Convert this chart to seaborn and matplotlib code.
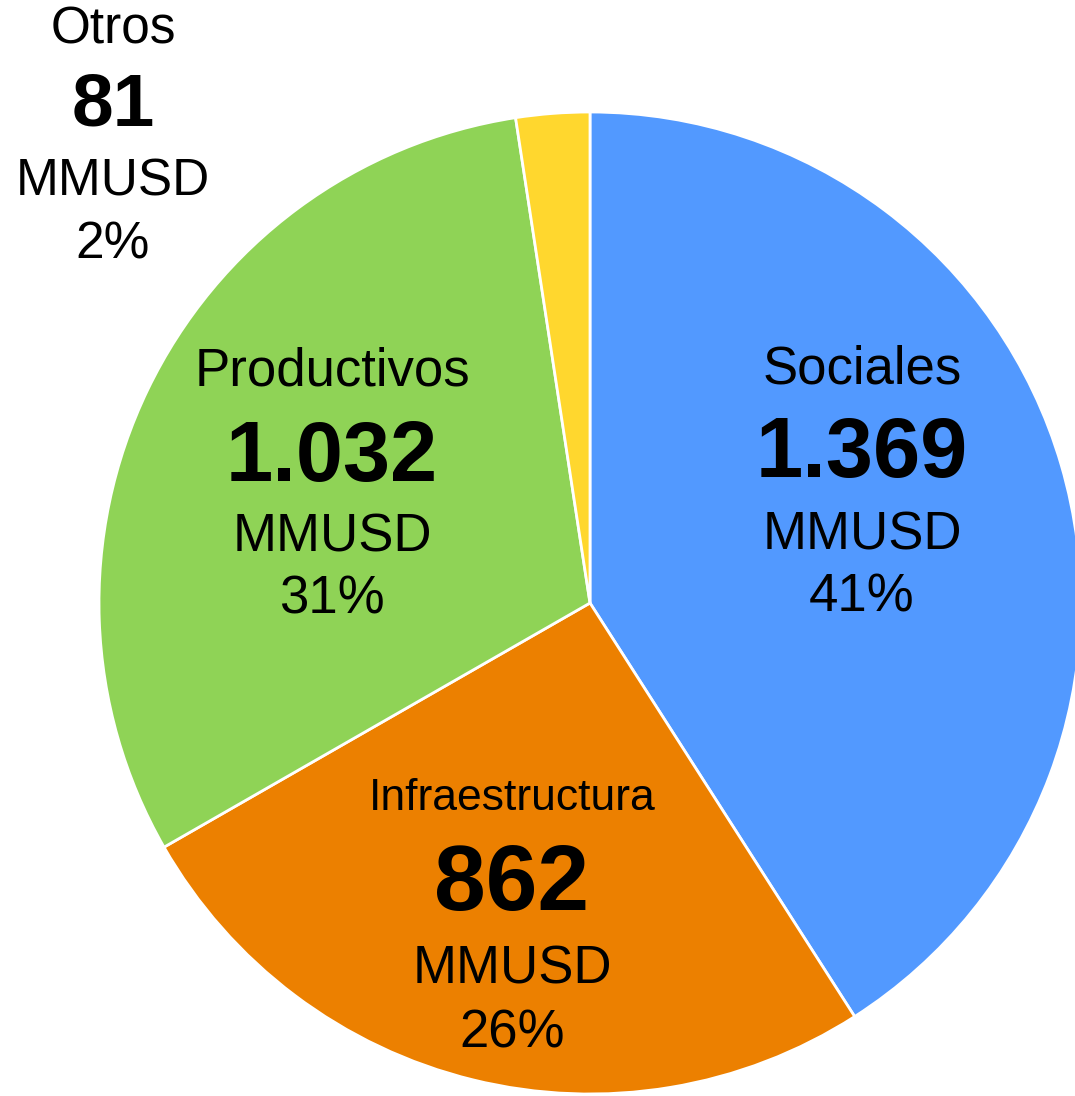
import matplotlib.pyplot as plt
import seaborn as sns

# -----------------------------
# Data
# -----------------------------
categories = ["Sociales", "Infraestructura", "Productivos", "Otros"]
values = [1369, 862, 1032, 81]
unit = "MMUSD"
colors = ["#5299FF", "#EC8000", "#8FD356", "#FFD72E"]

# label anchor (pixel x, pixel y of first line), font sizes and line offsets per slice
label_pos = {
    "Sociales": (862, 369, [38, 61, 38, 38], [0, 86, 166, 229]),
    "Infraestructura": (512, 798, [32, 67, 38, 38], [0, 88, 172, 235]),
    "Productivos": (332, 372, [38, 61, 38, 38], [0, 87, 165, 228]),
    "Otros": (113, 30, [37, 54, 37, 37], [0, 76, 152, 215]),
}

sns.set_theme(style="white")
plt.rcParams['font.family'] = ['Liberation Sans', 'DejaVu Sans']

W, H = 1075, 1096
CX, CY, R = 590, 603, 491

fig = plt.figure(figsize=(W / 100, H / 100), dpi=100)
ax = fig.add_axes([0, 0, 1, 1])

ax.pie(
    values,
    colors=colors,
    startangle=90,
    counterclock=False,
    radius=1,
    wedgeprops=dict(edgecolor="white", linewidth=2),
)

ax.set_xlim(-CX / R, (W - CX) / R)
ax.set_ylim(-(H - CY) / R, CY / R)
ax.set_aspect("equal")
ax.axis("off")

total = sum(values)


def to_data(px, py):
    return (px - CX) / R, (CY - py) / R


for cat, val in zip(categories, values):
    px, py, sizes, offs = label_pos[cat]
    pct = round(val / total * 100)
    lines = [cat, f"{val:,}".replace(",", "."), unit, f"{pct}%"]
    for i, (txt, fs, off) in enumerate(zip(lines, sizes, offs)):
        x, y = to_data(px, py + off)
        ax.text(x, y, txt, ha="center", va="center", fontsize=fs,
                fontweight="bold" if i == 1 else "normal", color="black")

fig.savefig("out.png", dpi=100)
